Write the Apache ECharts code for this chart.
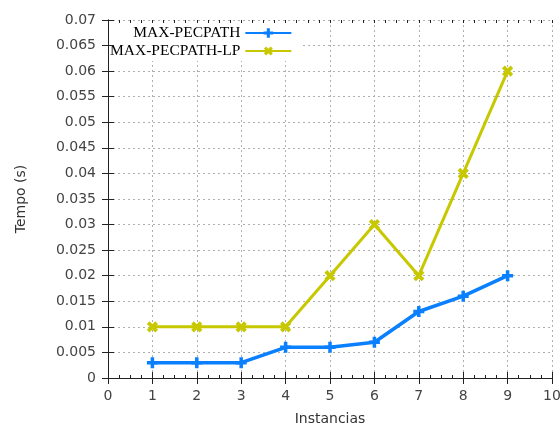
<!DOCTYPE html>
<html><head><meta charset="utf-8">
<script src="https://cdn.jsdelivr.net/npm/echarts@6/dist/echarts.min.js"></script>
<style>html,body{margin:0;padding:0;background:#fff}#c{width:560px;height:426px}</style>
</head><body><div id="c"></div>
<script>
const instancias = [1, 2, 3, 4, 5, 6, 7, 8, 9];
const maxPecpath = [0.003, 0.003, 0.003, 0.006, 0.006, 0.007, 0.013, 0.016, 0.02];
const maxPecpathLP = [0.01, 0.01, 0.01, 0.01, 0.02, 0.03, 0.02, 0.04, 0.06];
const seriesNames = ['MAX-PECPATH', 'MAX-PECPATH-LP'];

const plus = 'path://M3.4,0H6.6V3.4H10V6.6H6.6V10H3.4V6.6H0V3.4H3.4Z';
const font = 'DejaVu Sans';
const chart = echarts.init(document.getElementById('c'), null, {renderer: 'canvas'});
const axisLine = {show: true, lineStyle: {color: '#222', width: 1}};
const noLine = {show: false};
const gridLine = {show: true, lineStyle: {color: '#b0b0b0', type: [2, 3], width: 1}};
const tickInside = len => ({show: true, inside: true, length: len, lineStyle: {color: '#222'}});
chart.setOption({
  animation: false,
  grid: {left: 108, right: 8, top: 20, bottom: 48, outerBoundsMode: 'none', containLabel: false},
  legend: {
    orient: 'vertical', left: 108, top: 21, align: 'right',
    padding: [4, 8, 2, 2], backgroundColor: '#fff', z: 3,
    itemWidth: 46, itemHeight: 12, itemGap: 2,
    textStyle: {fontFamily: 'Liberation Serif', fontSize: 15.5, color: '#000', width: 130, align: 'right'},
    data: seriesNames
  },
  xAxis: [{
    type: 'value', min: 0, max: 10, interval: 1, z: 5,
    name: 'Instancias', nameLocation: 'middle', nameGap: 34,
    nameTextStyle: {fontFamily: font, fontSize: 14, color: '#333'},
    axisLine: axisLine, axisTick: tickInside(6),
    axisLabel: {fontFamily: font, fontSize: 14, color: '#444', margin: 11},
    splitLine: {show: false}
  }, {
    type: 'value', position: 'top', min: 0, max: 10, interval: 1, z: 5,
    axisLine: axisLine, axisTick: tickInside(6),
    axisLabel: {show: false}, splitLine: {show: false}
  }, {
    type: 'value', position: 'bottom', min: 0, max: 10, interval: 0.25, z: 5,
    axisLine: noLine, axisTick: tickInside(3),
    axisLabel: {show: false}, splitLine: {show: false}
  }, {
    type: 'value', position: 'top', min: 0, max: 10, interval: 0.25, z: 5,
    axisLine: noLine, axisTick: tickInside(3),
    axisLabel: {show: false}, splitLine: {show: false}
  }, {
    type: 'value', position: 'bottom', min: 0, max: 10, interval: 1, z: 0,
    axisLine: noLine, axisTick: {show: false},
    axisLabel: {show: false}, splitLine: gridLine
  }],
  yAxis: [{
    type: 'value', min: 0, max: 0.07, interval: 0.005, z: 5,
    name: 'Tempo (s)', nameLocation: 'middle', nameGap: 80, nameRotate: 90,
    nameTextStyle: {fontFamily: font, fontSize: 14, color: '#333'},
    axisLine: axisLine, axisTick: tickInside(6),
    axisLabel: {fontFamily: font, fontSize: 14, color: '#444', margin: 12,
      formatter: v => String(parseFloat(v.toFixed(3)))},
    splitLine: {show: false}
  }, {
    type: 'value', position: 'right', min: 0, max: 0.07, interval: 0.005, z: 5,
    axisLine: axisLine, axisTick: tickInside(6),
    axisLabel: {show: false}, splitLine: {show: false}
  }, {
    type: 'value', position: 'left', min: 0, max: 0.07, interval: 0.005, z: 0,
    axisLine: noLine, axisTick: {show: false},
    axisLabel: {show: false}, splitLine: gridLine
  }],
  series: [{
    name: seriesNames[0], type: 'line',
    data: instancias.map((x, i) => [x, maxPecpath[i]]),
    symbol: plus, symbolSize: 11, showAllSymbol: true,
    lineStyle: {color: '#0a80ff', width: 3.5},
    itemStyle: {color: '#0a80ff'}, z: 3
  }, {
    name: seriesNames[1], type: 'line',
    data: instancias.map((x, i) => [x, maxPecpathLP[i]]),
    symbol: plus, symbolRotate: 45, symbolSize: 12, showAllSymbol: true,
    lineStyle: {color: '#c8c800', width: 3},
    itemStyle: {color: '#c8c800'}, z: 2
  }]
});
</script></body></html>
